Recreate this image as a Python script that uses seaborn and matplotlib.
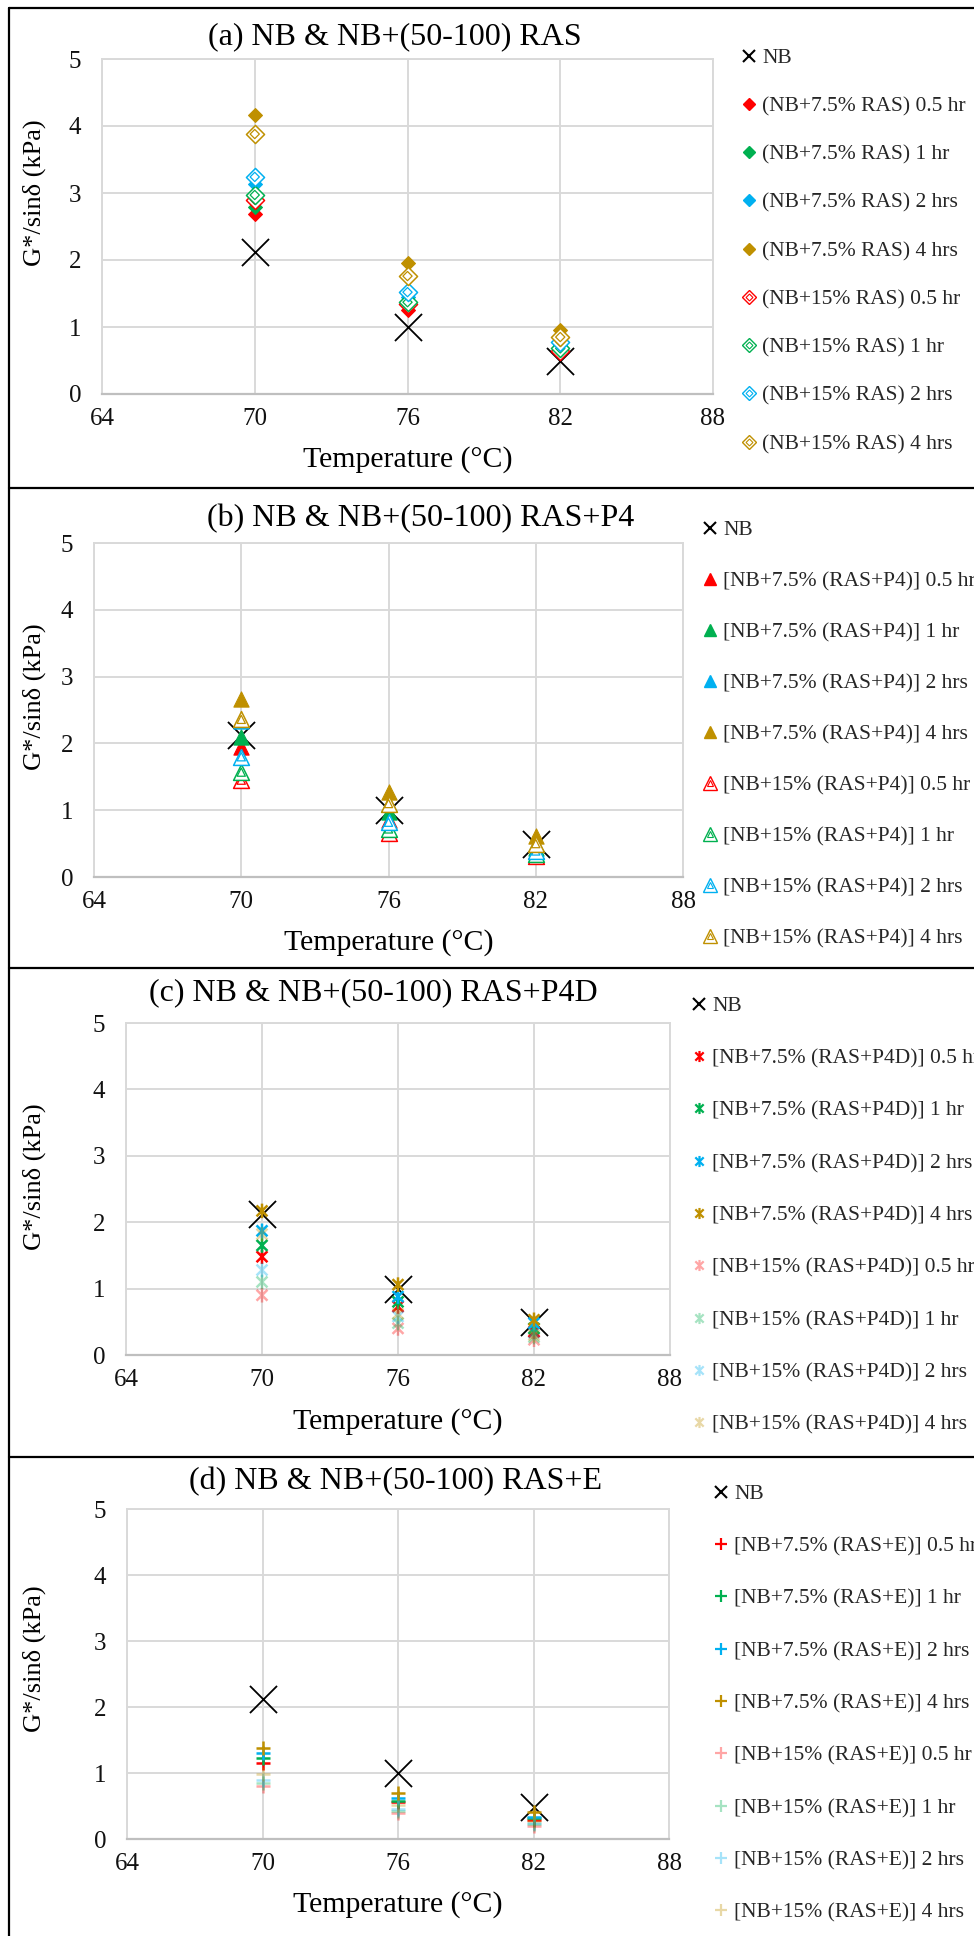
import matplotlib
matplotlib.use("Agg")
import matplotlib.pyplot as plt
import seaborn as sns
import pandas as pd
from matplotlib.lines import Line2D
from matplotlib.path import Path
from matplotlib.legend_handler import HandlerTuple

# ---------------- data ----------------
temps = [70, 76, 82]
hours = ["0.5 hr", "1 hr", "2 hrs", "4 hrs"]
nb = [2.12, 1.00, 0.49]

# rows: 0.5 hr, 1 hr, 2 hrs, 4 hrs ; columns: 70, 76, 82 °C
a_75 = [[2.68, 1.25, 0.62], [2.79, 1.33, 0.66], [3.13, 1.45, 0.73], [4.16, 1.95, 0.95]]
a_15 = [[2.90, 1.34, 0.64], [2.97, 1.37, 0.68], [3.24, 1.52, 0.78], [3.88, 1.76, 0.85]]
b_75 = [[1.95, 0.85, 0.39], [2.10, 0.97, 0.44], [2.33, 1.09, 0.49], [2.67, 1.27, 0.62]]
b_15 = [[1.45, 0.66, 0.32], [1.57, 0.72, 0.34], [1.80, 0.82, 0.39], [2.36, 1.10, 0.50]]
c_75 = [[1.48, 0.73, 0.35], [1.65, 0.80, 0.40], [1.87, 0.88, 0.48], [2.17, 1.06, 0.53]]
c_15 = [[0.90, 0.40, 0.23], [1.10, 0.48, 0.27], [1.28, 0.58, 0.33], [1.82, 0.62, 0.30]]
d_75 = [[1.15, 0.56, 0.29], [1.23, 0.58, 0.32], [1.31, 0.62, 0.34], [1.38, 0.69, 0.41]]
d_15 = [[0.80, 0.39, 0.20], [0.85, 0.42, 0.22], [0.90, 0.46, 0.24], [0.98, 0.51, 0.27]]

titles = ["(a) NB & NB+(50-100) RAS", "(b) NB & NB+(50-100) RAS+P4",
          "(c) NB & NB+(50-100) RAS+P4D", "(d) NB & NB+(50-100) RAS+E"]
labels_a = [f"(NB+7.5% RAS) {h}" for h in hours] + [f"(NB+15% RAS) {h}" for h in hours]
labels_b = [f"[NB+7.5% (RAS+P4)] {h}" for h in hours] + [f"[NB+15% (RAS+P4)] {h}" for h in hours]
labels_c = [f"[NB+7.5% (RAS+P4D)] {h}" for h in hours] + [f"[NB+15% (RAS+P4D)] {h}" for h in hours]
labels_d = [f"[NB+7.5% (RAS+E)] {h}" for h in hours] + [f"[NB+15% (RAS+E)] {h}" for h in hours]
x_ticks = [64, 70, 76, 82, 88]
y_ticks = [0, 1, 2, 3, 4, 5]

colors = ["#FF0000", "#00B050", "#00B0F0", "#BF9000"]

# ---------------- style ----------------
sns.set_theme(style="white")
plt.rcParams["font.family"] = ["Liberation Serif", "DejaVu Serif"]

W, H = 974, 1936
fig = plt.figure(figsize=(W / 100, H / 100), dpi=100)


def fx(px):
    return px / W


def fy(py):
    return 1 - py / H


# Excel-like "star" marker: an X with a vertical bar
ASTER = Path([(0, -1), (0, 1), (-0.75, -0.75), (0.75, 0.75), (-0.75, 0.75), (0.75, -0.75)],
             [Path.MOVETO, Path.LINETO, Path.MOVETO, Path.LINETO, Path.MOVETO, Path.LINETO])

panels = [
    dict(box=(102, 59, 713, 394), title_xy=(395, 37), ylab_y=193, xlab_y=460,
         leg=(743, 48), ls=1.31, d75=a_75, d15=a_15, labels=labels_a, kind="diamond"),
    dict(box=(94, 543, 683, 877), title_xy=(421, 519), ylab_y=697, xlab_y=943,
         leg=(704, 520), ls=1.44, d75=b_75, d15=b_15, labels=labels_b, kind="triangle"),
    dict(box=(126, 1023, 670, 1355), title_xy=(373, 993), ylab_y=1177, xlab_y=1422,
         leg=(693, 996), ls=1.50, d75=c_75, d15=c_15, labels=labels_c, kind="star"),
    dict(box=(127, 1509, 669, 1839), title_xy=(396, 1482), ylab_y=1659, xlab_y=1905,
         leg=(715, 1484), ls=1.50, d75=d_75, d15=d_15, labels=labels_d, kind="plus"),
]

for p, title in zip(panels, titles):
    l, t, r, b = p["box"]
    ax = fig.add_axes([fx(l), fy(b), (r - l) / W, (b - t) / H])
    ax.set_xlim(64, 88)
    ax.set_ylim(0, 5)
    ax.set_xticks(x_ticks)
    ax.set_yticks(y_ticks)
    ax.set_xticklabels([str(v) for v in x_ticks], fontsize=18, color="#111111")
    ax.set_yticklabels([str(v) for v in y_ticks], fontsize=18, color="#111111")
    ax.tick_params(length=0, axis="x", pad=10)
    ax.tick_params(length=0, axis="y", pad=15)
    ax.grid(True, color="#D9D9D9", lw=1.4)
    ax.set_axisbelow(True)
    for side in ["left", "right", "top"]:
        ax.spines[side].set_color("#D9D9D9")
        ax.spines[side].set_linewidth(1.4)
    ax.spines["bottom"].set_color("#BFBFBF")
    ax.spines["bottom"].set_linewidth(1.6)
    ax.set_xlabel("")
    ax.set_ylabel("")

    # NB series
    sns.scatterplot(x=temps, y=nb, ax=ax, marker="x", color="black", s=380,
                    linewidth=1.3, legend=False, zorder=3)

    handles = [Line2D([], [], marker="x", ls="none", color="black", markersize=8,
                      markeredgewidth=1.5)]
    kind = p["kind"]
    # 7.5% series
    for vals, col in zip(p["d75"], colors):
        if kind == "diamond":
            sns.scatterplot(x=temps, y=vals, ax=ax, marker="D", color=col, s=50,
                            edgecolor=col, linewidth=0.8, legend=False, zorder=3)
            handles.append(Line2D([], [], marker="D", ls="none", color=col, markersize=6))
        elif kind == "triangle":
            sns.scatterplot(x=temps, y=vals, ax=ax, marker="^", color=col, s=120,
                            edgecolor=col, linewidth=0.8, legend=False, zorder=3)
            handles.append(Line2D([], [], marker="^", ls="none", color=col, markersize=9))
        elif kind == "star":
            sns.scatterplot(x=temps, y=vals, ax=ax, marker=ASTER, color=col, s=110,
                            facecolor="none", edgecolor=col,
                            linewidth=1.8, legend=False, zorder=3)
            handles.append(Line2D([], [], marker=ASTER, ls="none", markerfacecolor="none",
                                  markeredgecolor=col, markersize=8, markeredgewidth=1.6))
        else:
            sns.scatterplot(x=temps, y=vals, ax=ax, marker="+", color=col, s=110,
                            linewidth=1.8, legend=False, zorder=3)
            handles.append(Line2D([], [], marker="+", ls="none", color=col,
                                  markersize=9, markeredgewidth=1.6))
    # 15% series
    for vals, col in zip(p["d15"], colors):
        if kind == "diamond":
            sns.scatterplot(x=temps, y=vals, ax=ax, marker="D", color=col, s=85,
                            facecolor="white", edgecolor=col, linewidth=1.1,
                            legend=False, zorder=3)
            sns.scatterplot(x=temps, y=vals, ax=ax, marker="D", color=col, s=22,
                            facecolor="none", edgecolor=col, linewidth=0.9,
                            legend=False, zorder=3)
            handles.append((Line2D([], [], marker="D", ls="none", markersize=7.5,
                                   markerfacecolor="white", markeredgecolor=col, markeredgewidth=1.0),
                            Line2D([], [], marker="D", ls="none", markersize=3.5,
                                   markerfacecolor="none", markeredgecolor=col, markeredgewidth=0.8)))
        elif kind == "triangle":
            sns.scatterplot(x=temps, y=vals, ax=ax, marker="^", color=col, s=130,
                            facecolor="white", edgecolor=col, linewidth=1.1,
                            legend=False, zorder=3)
            sns.scatterplot(x=temps, y=vals, ax=ax, marker="^", color=col, s=35,
                            facecolor="none", edgecolor=col, linewidth=0.9,
                            legend=False, zorder=3)
            handles.append((Line2D([], [], marker="^", ls="none", markersize=10,
                                   markerfacecolor="white", markeredgecolor=col, markeredgewidth=1.0),
                            Line2D([], [], marker="^", ls="none", markersize=5,
                                   markerfacecolor="none", markeredgecolor=col, markeredgewidth=0.8)))
        elif kind == "star":
            sns.scatterplot(x=temps, y=vals, ax=ax, marker=ASTER, color=col, s=110,
                            facecolor="none", edgecolor=col,
                            linewidth=1.8, alpha=0.35, legend=False, zorder=3)
            handles.append(Line2D([], [], marker=ASTER, ls="none", markerfacecolor="none",
                                  markeredgecolor=col, alpha=0.35,
                                  markersize=8, markeredgewidth=1.6))
        else:
            sns.scatterplot(x=temps, y=vals, ax=ax, marker="+", color=col, s=110,
                            linewidth=1.8, alpha=0.35, legend=False, zorder=3)
            handles.append(Line2D([], [], marker="+", ls="none", color=col, alpha=0.35,
                                  markersize=9, markeredgewidth=1.6))

    labels = ["NB"] + p["labels"]
    lx, ly = p["leg"]
    fig.legend(handles, labels, loc="upper left",
               bbox_to_anchor=(fx(lx), fy(ly)), bbox_transform=fig.transFigure,
               frameon=False, fontsize=15.5, labelspacing=p["ls"],
               handlelength=0.6, handletextpad=0.3, borderpad=0, borderaxespad=0,
               handler_map={tuple: HandlerTuple(ndivide=1, pad=0)})

    tx, ty = p["title_xy"]
    fig.text(fx(tx), fy(ty), title, ha="center", va="center", fontsize=23, color="black")
    fig.text(fx((l + r) / 2), fy(p["xlab_y"]), "Temperature (°C)", ha="center",
             va="center", fontsize=21.5, color="black")
    fig.text(fx(34), fy(p["ylab_y"]), "G*/sinδ (kPa)", ha="center", va="center",
             rotation=90, fontsize=19, color="black")

# panel frames
for yy in [8, 488, 968, 1457]:
    fig.add_artist(Line2D([fx(9), 1.0], [fy(yy), fy(yy)], transform=fig.transFigure,
                          color="black", lw=1.6))
fig.add_artist(Line2D([fx(9), fx(9)], [fy(8), 0.0], transform=fig.transFigure,
                      color="black", lw=1.6))

fig.savefig("out.png", dpi=100, facecolor="white")
